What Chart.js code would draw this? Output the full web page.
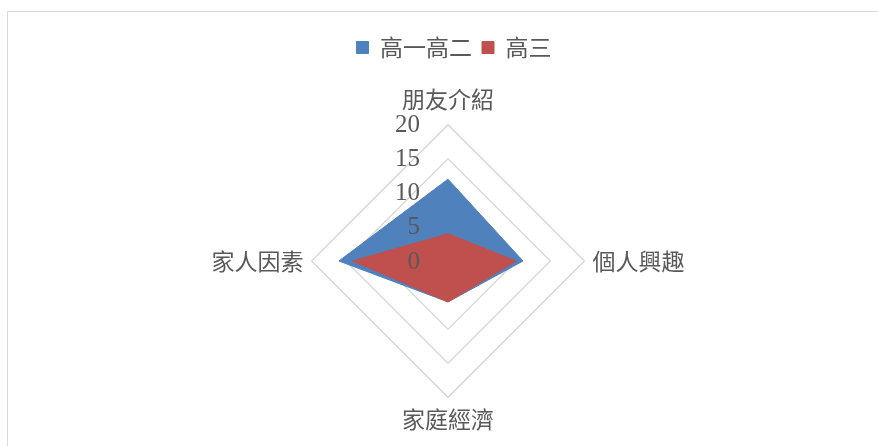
<!DOCTYPE html>
<html>
<head>
<meta charset="utf-8">
<script src="https://cdn.jsdelivr.net/npm/chart.js@4"></script>
<style>
  html, body { margin: 0; padding: 0; background: #fff; overflow: hidden; }
  #frame {
    position: absolute; left: 7px; top: 11px;
    width: 900px; height: 440px;
    border-left: 1px solid #d9d9d9; border-top: 1px solid #d9d9d9;
  }
  #wrap { position: absolute; left: 0; top: 0; width: 892px; height: 435px; }
</style>
</head>
<body>
<div id="frame"><div id="wrap"><canvas id="radar"></canvas></div></div>
<script>
// chart values
const categories = ['朋友介紹', '個人興趣', '家庭經濟', '家人因素'];
const juniorValues = [12, 11, 6, 16];   // 高一高二
const seniorValues = [4, 10, 6, 14];    // 高三
const seriesNames = ['高一高二', '高三'];
const tickValues = [0, 5, 10, 15, 20];

const cjkFont = '"Noto Sans CJK TC", "Noto Sans", sans-serif';
const textColor = '#595959';

// tick labels sit left of the top axis, over the fills
const tickLabelPlugin = {
    id: 'tickLabels',
    afterDatasetsDraw(chart) {
        const scale = chart.scales.r;
        const ctx = chart.ctx;
        ctx.save();
        ctx.font = '25px "Liberation Serif", serif';
        ctx.fillStyle = textColor;
        ctx.textAlign = 'right';
        ctx.textBaseline = 'middle';
        tickValues.forEach(v => {
            const y = scale.yCenter - scale.getDistanceFromCenterForValue(v);
            ctx.fillText(String(v), scale.xCenter - 28, y + 1);
        });
        ctx.restore();
    }
};

// extra room under the legend, and keep the legend centred on the page
const legendGap = {
    id: 'legendGap',
    beforeInit(chart) {
        const fit = chart.legend.fit;
        chart.legend.fit = function() {
            fit.bind(chart.legend)();
            this.height += 15;
        };
    },
    afterLayout(chart) {
        chart.legend.left += 5.5;
        chart.legend.right += 5.5;
    }
};

const ctx = document.getElementById('radar').getContext('2d');
new Chart(ctx, {
    type: 'radar',
    data: {
        labels: categories,
        datasets: [
            {
                label: seriesNames[0],
                data: juniorValues,
                backgroundColor: '#4f81bd',
                borderColor: '#4f81bd',
                borderWidth: 1,
                pointRadius: 0,
                fill: true,
                order: 1
            },
            {
                label: seriesNames[1],
                data: seniorValues,
                backgroundColor: '#c0504d',
                borderColor: '#c0504d',
                borderWidth: 1,
                pointRadius: 0,
                fill: true,
                order: 0
            }
        ]
    },
    options: {
        responsive: true,
        maintainAspectRatio: false,
        animation: false,
        layout: { padding: { top: 14, bottom: 11, right: 11 } },
        plugins: {
            tooltip: { enabled: false },
            legend: {
                position: 'top',
                labels: {
                    boxWidth: 12,
                    boxHeight: 12,
                    padding: 10,
                    color: textColor,
                    font: { family: cjkFont, size: 23 },
                    sort: (a, b) => a.datasetIndex - b.datasetIndex
                }
            }
        },
        scales: {
            r: {
                min: 0,
                max: 20,
                ticks: { stepSize: 5, display: false },
                angleLines: { display: false },
                grid: { color: '#d9d9d9', lineWidth: 1.5 },
                pointLabels: {
                    color: textColor,
                    padding: c => (c.index === 0 ? 12 : 8),
                    font: { family: cjkFont, size: 23 }
                }
            }
        }
    },
    plugins: [tickLabelPlugin, legendGap]
});
</script>
</body>
</html>
